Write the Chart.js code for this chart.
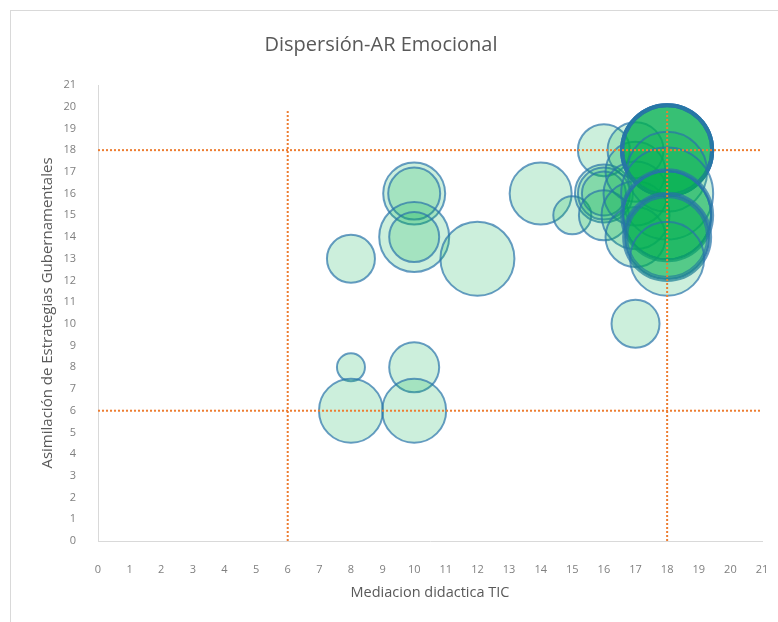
<!DOCTYPE html>
<html>
<head>
<meta charset="utf-8">
<script src="https://cdn.jsdelivr.net/npm/chart.js@4/dist/chart.umd.min.js"></script>
<style>
  html, body { margin: 0; padding: 0; background: #ffffff; }
  #wrap { position: relative; width: 778px; height: 622px; overflow: hidden; }
  #frame { position: absolute; left: 10px; top: 10px; width: 800px; height: 640px;
           border-left: 1px solid #d9d9d9; border-top: 1px solid #d9d9d9; background: #fff; }
  #c { position: absolute; left: 0; top: 0; }
</style>
</head>
<body>
<div id="wrap">
  <div id="frame"></div>
  <canvas id="c" width="778" height="622"></canvas>
</div>
<script>
// ---- data ----
const chartTitle = 'Dispersión-AR Emocional';
const xAxisTitle = 'Mediacion didactica TIC';
const yAxisTitle = 'Asimilación de Estrategias Gubernamentales';

// bubble positions (Mediacion didactica TIC, Asimilacion) and bubble sizes
const bubbleX = [8, 8, 8, 10, 10, 10, 10, 10, 10, 12,
                 14, 15, 16, 16, 16, 16, 16, 17, 17, 17, 17, 17, 17,
                 18, 18, 18, 18, 18, 18, 18,
                 18, 18, 18, 18, 18, 18, 18, 18, 18, 18, 18];
const bubbleY = [13, 8, 6, 16, 16, 14, 14, 8, 6, 13,
                 16, 15, 18, 16, 16, 16, 15, 18, 17, 16, 15, 14, 10,
                 18, 18, 18, 18, 18, 18, 18,
                 17, 16, 15, 15, 15, 15, 14, 14, 14, 14, 13];
const bubbleSize = [24, 14, 32, 31, 26, 35, 25, 25, 32, 37,
                    31, 19, 26, 29, 26, 22, 25, 28, 30, 32, 34, 30, 24,
                    46, 46, 46, 46, 44, 44, 44,
                    40, 46, 46, 44, 44, 44, 44, 42, 42, 40, 37];

// reference (dotted) lines
const hLineValues = [18, 6];
const vLineValues = [6, 18];
const vLineTop = 19.8;

const axisMin = 0, axisMax = 21;

// ---- build datasets ----
const bubbles = bubbleX.map((x, i) => ({ x: x, y: bubbleY[i], r: bubbleSize[i] }));
const refStyle = {
  type: 'line', showLine: true, pointRadius: 0, borderColor: '#ED7D31',
  borderWidth: 2, borderDash: [2, 2], fill: false, order: 0, tension: 0
};
const datasets = [{
  type: 'bubble',
  data: bubbles,
  backgroundColor: 'rgba(0,176,80,0.2)',
  borderColor: 'rgba(40,115,170,0.7)',
  borderWidth: 2,
  hoverRadius: 0,
  order: 1
}];
hLineValues.forEach(v => datasets.push(Object.assign({}, refStyle, {
  data: [{ x: axisMin, y: v }, { x: axisMax, y: v }] })));
vLineValues.forEach(v => datasets.push(Object.assign({}, refStyle, {
  data: [{ x: v, y: axisMin }, { x: v, y: vLineTop }] })));

const tickFont = { family: 'Open Sans', size: 11 };
new Chart(document.getElementById('c'), {
  type: 'bubble',
  data: { datasets: datasets },
  options: {
    responsive: false,
    animation: false,
    events: [],
    layout: { autoPadding: false, padding: { top: 20, right: 16, bottom: 0, left: 0 } },
    plugins: {
      legend: { display: false },
      tooltip: { enabled: false },
      title: {
        display: true, text: chartTitle, color: '#595959',
        font: { family: 'Open Sans', size: 20, weight: 'normal', lineHeight: 1.2 },
        padding: { top: 13, bottom: 28 }
      }
    },
    scales: {
      x: {
        type: 'linear', min: axisMin, max: axisMax,
        grid: { display: false },
        border: { display: true, color: '#d9d9d9', width: 1 },
        ticks: { stepSize: 1, color: '#7f7f7f', font: tickFont, padding: 14, maxRotation: 0, autoSkip: false },
        title: { display: true, text: xAxisTitle, color: '#595959',
                 font: { family: 'Open Sans', size: 14.5 }, padding: { top: 0, bottom: 20 } },
        afterFit: s => { s.height = 81; s.paddingLeft = 0; s.paddingRight = 0; }
      },
      y: {
        type: 'linear', min: axisMin, max: axisMax,
        grid: { display: false },
        border: { display: true, color: '#d9d9d9', width: 1 },
        ticks: { stepSize: 1, color: '#7f7f7f', font: tickFont, padding: 14, autoSkip: false },
        title: { display: true, text: yAxisTitle, color: '#595959',
                 font: { family: 'Open Sans', size: 15 }, padding: { top: 39, bottom: 0 } },
        afterFit: s => { s.width = 98; s.paddingTop = 0; s.paddingBottom = 0; }
      }
    }
  }
});
</script>
</body>
</html>
